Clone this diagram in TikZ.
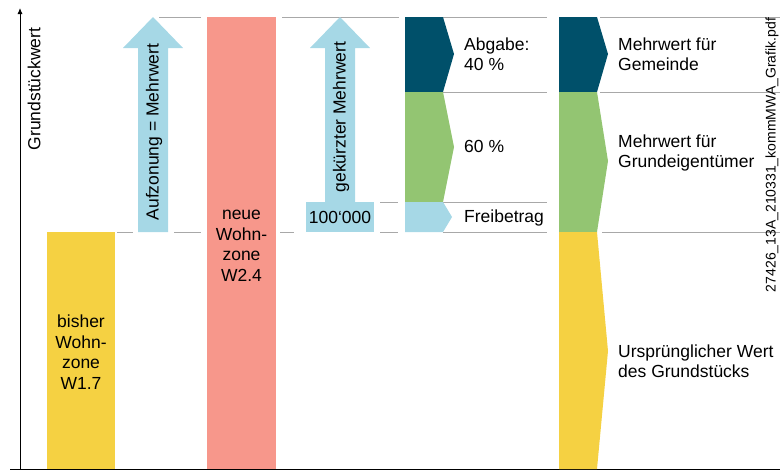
\documentclass[tikz,border=0pt]{standalone}
\usepackage{fontspec}
\setmainfont{Liberation Sans}
\usetikzlibrary{arrows.meta}
\definecolor{lblue}{HTML}{A6D8E6}
\definecolor{salmon}{HTML}{F7978B}
\definecolor{yel}{HTML}{F5D142}
\definecolor{dteal}{HTML}{00506A}
\definecolor{grn}{HTML}{93C572}
\definecolor{guidegray}{HTML}{A8A8A8}
\begin{document}
\begin{tikzpicture}[x=1pt,y=-1pt,
  guide/.style={draw=guidegray, line width=0.9pt},
  lbl/.style={font=\fontsize{17.5}{20}\selectfont, align=left, anchor=west, inner sep=0pt, text=black},
  ctr/.style={font=\fontsize{17.5}{20.5}\selectfont, align=center, inner sep=0pt, text=black},
  vlbl/.style={font=\fontsize{17.5}{20}\selectfont, rotate=90, inner sep=0pt, text=black}
]
\useasboundingbox (0,0) rectangle (780,472);

% guide lines
\draw[guide] (159,17) -- (201,17);
\draw[guide] (282,17) -- (399,17);
\draw[guide] (443,17) -- (547,17);
\draw[guide] (600,17) -- (780,17);
\draw[guide] (443,92) -- (547,92);
\draw[guide] (600,92) -- (780,92);
\draw[guide] (380,202) -- (398,202);
\draw[guide] (443,202) -- (547,202);
\draw[guide] (117,232) -- (133,232);
\draw[guide] (174,232) -- (201,232);
\draw[guide] (280,232) -- (294,232);
\draw[guide] (380,232) -- (398,232);
\draw[guide] (443,232) -- (547,232);
\draw[guide] (602,232) -- (780,232);

% axes
\coordinate (origin) at (20,469);
\coordinate (ytop) at (20,8);
\coordinate (xleft) at (10,469);
\coordinate (xright) at (780,469);
\draw[line width=0.9pt, -{Latex[length=6pt,width=5pt]}] (origin) -- (ytop);
\draw[line width=0.9pt] (xleft) -- (xright);
\node[vlbl] (yaxis) at (34,89) {Grundstückwert};

% bar 1
\fill[yel] (47,232) rectangle (115,469);
\node[ctr] (bisher) at (81,352) {bisher\\Wohn-\\zone\\W1.7};

% arrow 1
\fill[lblue] (138,232) -- (138,48) -- (123,48) -- (153,17) -- (183,48) -- (168,48) -- (168,232) -- cycle;
\node[vlbl] (aufz) at (154,132) {Aufzonung = Mehrwert};

% bar 2
\fill[salmon] (207,17) rectangle (276,469);
\node[ctr] (neue) at (241.5,246) {neue\\Wohn-\\zone\\W2.4};

% arrow 2
\fill[lblue] (325,203) -- (325,48) -- (310,48) -- (340,17) -- (370,48) -- (355,48) -- (355,203) -- cycle;
\node[vlbl] (gek) at (341,117) {gekürzter Mehrwert};
\fill[lblue] (306,202) rectangle (374,232);
\node[ctr] (freib) at (340,217.5) {100‘000};

% column 3
\fill[dteal] (405,17) -- (443,17) -- (454,54) -- (443,92) -- (405,92) -- cycle;
\fill[grn] (405,92) -- (443,92) -- (454,147) -- (443,202) -- (405,202) -- cycle;
\fill[lblue] (405,202) -- (443,202) -- (452,217) -- (443,232) -- (405,232) -- cycle;
\node[lbl] (abg) at (464,54) {Abgabe:\\40 \%};
\node[lbl] (sixty) at (464,146) {60 \%};
\node[lbl] (freit) at (464,218) {Freibetrag};

% column 4
\fill[dteal] (559,17) -- (597,17) -- (608,54) -- (597,92) -- (559,92) -- cycle;
\fill[grn] (559,92) -- (597,92) -- (608,161) -- (597,232) -- (559,232) -- cycle;
\fill[yel] (559,232) -- (597,232) -- (608,351) -- (597,469) -- (559,469) -- cycle;
\node[lbl] (gem) at (618,54) {Mehrwert für\\Gemeinde};
\node[lbl] (eig) at (618,153) {Mehrwert für\\Grundeigentümer};
\node[lbl] (urs) at (618,361) {Ursprünglicher Wert\\des Grundstücks};

% file name
\node[rotate=90, inner sep=0pt, font=\fontsize{14}{16}\selectfont, text=black] (fname) at (772,155) {27426\_13A\_210331\_kommMWA\_Grafik.pdf};
\end{tikzpicture}
\end{document}
